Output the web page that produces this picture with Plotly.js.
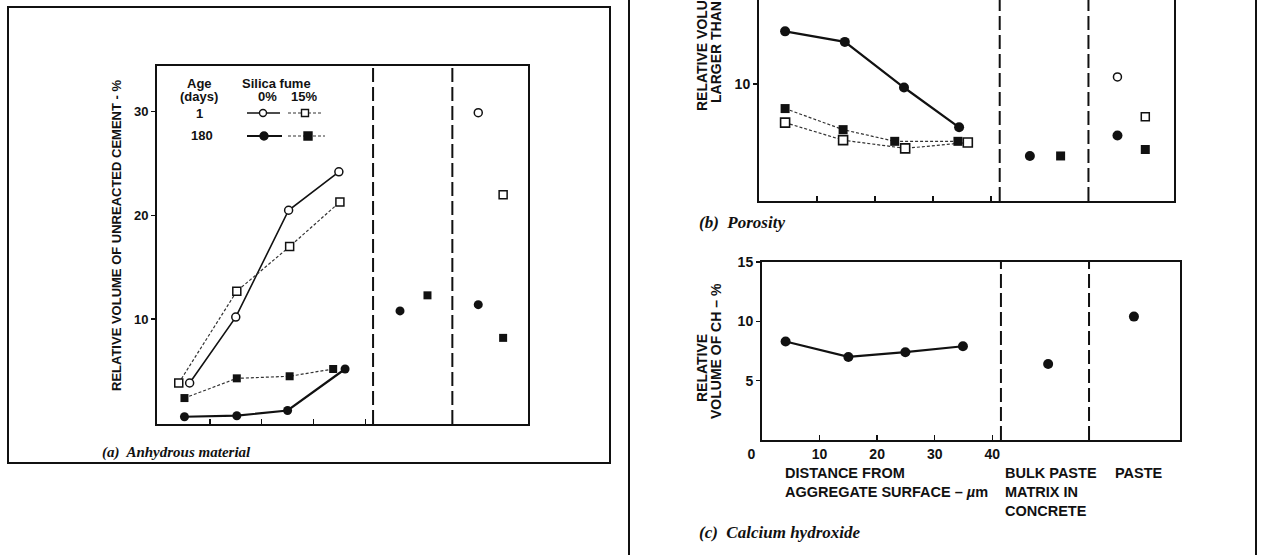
<!DOCTYPE html>
<html>
<head>
<meta charset="utf-8">
<script src="https://cdn.plot.ly/plotly-3.0.1.min.js"></script>
<style>
  html, body { margin: 0; padding: 0; background: #fff; }
  #fig { width: 1261px; height: 555px; }
</style>
</head>
<body>
<div id="fig"></div>
<script>
// ---- Data: distance from aggregate surface (µm) and relative volumes (%) ----

// (a) Anhydrous material – unreacted cement
const aAge1Sf0X   = [6.1, 15.0, 25.2, 34.9];
const aAge1Sf0Y   = [3.85, 10.2, 20.5, 24.2];
const aAge1Sf15X  = [4.0, 15.2, 25.4, 35.1];
const aAge1Sf15Y  = [3.85, 12.7, 17.0, 21.3];
const aAge180Sf15X = [5.1, 15.2, 25.4, 33.8];
const aAge180Sf15Y = [2.4, 4.3, 4.5, 5.2];
const aAge180Sf0X  = [5.1, 15.2, 25.0, 36.1];
const aAge180Sf0Y  = [0.6, 0.7, 1.2, 5.2];
// bulk paste matrix in concrete (180 days): 0%, 15%
const aBulk180Y = [10.8, 12.3];
// plain paste: 1 day (0%, 15%), 180 days (0%, 15%)
const aPaste1Y   = [29.9, 22.0];
const aPaste180Y = [11.4, 8.2];

// (b) Porosity
const bAge180Sf0X  = [4.5, 14.8, 25.0, 34.5];
const bAge180Sf0Y  = [14.5, 13.6, 9.7, 6.3];
const bAge180Sf15X = [4.5, 14.5, 23.4, 34.3];
const bAge180Sf15Y = [7.9, 6.1, 5.1, 5.1];
const bAge1Sf15X   = [4.5, 14.5, 25.2, 36.0];
const bAge1Sf15Y   = [6.7, 5.2, 4.5, 5.0];
const bBulk180Y  = [3.85, 3.85];
const bPaste1Y   = [10.6, 7.2];
const bPaste180Y = [5.6, 4.4];

// (c) Calcium hydroxide
const cDistX = [4.1, 15.0, 24.9, 34.9];
const cDistY = [8.3, 7.0, 7.4, 7.9];
const cBulkY  = [6.4];
const cPasteY = [10.4];

// Zone layout along the x scale: boundaries and where the zone points sit
const zoneEdges   = [41.5, 56.8];
const bulkX       = [46.7, 52.0];   // 0% , 15%
const pasteX      = [61.8, 66.6];   // 0% , 15%
const cZoneX      = [49.7, 64.6];   // bulk, paste

// Tick labels
const aYTicks = [10, 20, 30];
const bYTicks = [10, 20];
const cYTicks = [5, 10, 15];
const cXTicks = [0, 10, 20, 30, 40];
const cXTickText = ['0\u2003\u2002', '10', '20', '30', '40'];

// ---- Styling helpers ----
const W = 1261, H = 555;
const px = v => v / W;
const py = v => 1 - v / H;
const SANS = 'Liberation Sans, Arial, sans-serif';
const SERIF = 'Liberation Serif, Times New Roman, serif';
const INK = '#111';

const openCircle  = {symbol: 'circle', size: 8, color: '#fff', line: {color: INK, width: 1.5}};
const openSquare  = {symbol: 'square', size: 8, color: '#fff', line: {color: INK, width: 1.5}};
const fullCircle  = {symbol: 'circle', size: 9, color: INK, line: {color: INK, width: 0}};
const fullSquare  = {symbol: 'square', size: 8, color: INK, line: {color: INK, width: 0}};
const bigCircle   = {symbol: 'circle', size: 10, color: INK, line: {color: INK, width: 0}};
const bigSquare   = {symbol: 'square', size: 9, color: INK, line: {color: INK, width: 0}};
const bigOpenSq   = {symbol: 'square', size: 9, color: '#fff', line: {color: INK, width: 1.6}};
const solidLine   = {color: INK, width: 1.6};
const solidThick  = {color: INK, width: 2.2};
const dotLine     = {color: '#333', width: 1.2, dash: '3px,2px'};

function series(x, y, marker, line, xa, ya) {
  return {x, y, xaxis: xa, yaxis: ya, type: 'scatter',
          mode: line ? 'lines+markers' : 'markers',
          marker, line: line || undefined, hoverinfo: 'skip', cliponaxis: false};
}

const traces = [
  // (a)
  series(aAge1Sf0X, aAge1Sf0Y, openCircle, solidLine, 'x', 'y'),
  series(aAge1Sf15X, aAge1Sf15Y, openSquare, dotLine, 'x', 'y'),
  series(aAge180Sf15X, aAge180Sf15Y, fullSquare, dotLine, 'x', 'y'),
  series(aAge180Sf0X, aAge180Sf0Y, fullCircle, solidThick, 'x', 'y'),
  series([bulkX[0]], [aBulk180Y[0]], fullCircle, null, 'x', 'y'),
  series([bulkX[1]], [aBulk180Y[1]], fullSquare, null, 'x', 'y'),
  series([pasteX[0]], [aPaste1Y[0]], openCircle, null, 'x', 'y'),
  series([pasteX[1]], [aPaste1Y[1]], openSquare, null, 'x', 'y'),
  series([pasteX[0]], [aPaste180Y[0]], fullCircle, null, 'x', 'y'),
  series([pasteX[1]], [aPaste180Y[1]], fullSquare, null, 'x', 'y'),
  // (b)
  series(bAge1Sf15X, bAge1Sf15Y, bigOpenSq, dotLine, 'x2', 'y2'),
  series(bAge180Sf15X, bAge180Sf15Y, bigSquare, dotLine, 'x2', 'y2'),
  series(bAge180Sf0X, bAge180Sf0Y, bigCircle, solidThick, 'x2', 'y2'),
  series([bulkX[0]], [bBulk180Y[0]], bigCircle, null, 'x2', 'y2'),
  series([bulkX[1]], [bBulk180Y[1]], bigSquare, null, 'x2', 'y2'),
  series([pasteX[0]], [bPaste1Y[0]], openCircle, null, 'x2', 'y2'),
  series([pasteX[1]], [bPaste1Y[1]], openSquare, null, 'x2', 'y2'),
  series([pasteX[0]], [bPaste180Y[0]], bigCircle, null, 'x2', 'y2'),
  series([pasteX[1]], [bPaste180Y[1]], bigSquare, null, 'x2', 'y2'),
  // (c)
  series(cDistX, cDistY, bigCircle, solidThick, 'x3', 'y3'),
  series([cZoneX[0]], cBulkY, bigCircle, null, 'x3', 'y3'),
  series([cZoneX[1]], cPasteY, bigCircle, null, 'x3', 'y3'),
];

const tickFontA = {family: SANS, size: 13, color: INK, weight: 'bold'};
const tickFontR = {family: SANS, size: 14, color: INK, weight: 'bold'};

function xAxis(domain, range, anchor, extra) {
  return Object.assign({
    domain, range, anchor, showgrid: false, zeroline: false,
    showline: true, linecolor: INK, linewidth: 2, mirror: true,
    ticks: 'inside', ticklen: 5, tickwidth: 1.5, tickcolor: INK,
    tickvals: [10, 20, 30, 40], showticklabels: false, fixedrange: true
  }, extra || {});
}
function yAxis(domain, range, anchor, tickvals, font, extra) {
  return Object.assign({
    domain, range, anchor, showgrid: false, zeroline: false,
    showline: true, linecolor: INK, linewidth: 2, mirror: true,
    ticks: 'outside', ticklen: 4, tickwidth: 1.5, tickcolor: INK,
    tickvals, tickfont: font, fixedrange: true
  }, extra || {});
}

// zone boundaries drawn as long-dash verticals in each panel
const shapes = [];
[['x', 'y domain'], ['x2', 'y2 domain'], ['x3', 'y3 domain']].forEach(([xr, yr]) => {
  zoneEdges.forEach(e => shapes.push({
    type: 'line', xref: xr, yref: yr, x0: e, x1: e, y0: 0, y1: 1,
    line: {color: INK, width: 2, dash: '14px,5px'}
  }));
});
// panel borders
shapes.push({type: 'rect', xref: 'paper', yref: 'paper',
  x0: px(8), x1: px(610), y0: py(463), y1: py(7), line: {color: INK, width: 2}});
shapes.push({type: 'line', xref: 'paper', yref: 'paper',
  x0: px(629), x1: px(629), y0: 0, y1: 1, line: {color: INK, width: 2}});
shapes.push({type: 'line', xref: 'paper', yref: 'paper',
  x0: px(1256), x1: px(1256), y0: 0, y1: 1, line: {color: INK, width: 2}});

// key for panel (a): line samples with symbols
function keyLine(x0, x1, y, line) {
  shapes.push({type: 'line', xref: 'paper', yref: 'paper',
    x0: px(x0), x1: px(x1), y0: py(y), y1: py(y), line});
}
function keyMark(kind, cx, cy, r, filled) {
  shapes.push({type: kind, xref: 'paper', yref: 'paper',
    x0: px(cx - r), x1: px(cx + r), y0: py(cy + r), y1: py(cy - r),
    fillcolor: filled ? INK : '#fff', line: {color: INK, width: 1.4}});
}
keyLine(247, 280, 113, {color: INK, width: 1.6});
keyMark('circle', 263, 113, 3.5, false);
keyLine(288, 323, 113, {color: '#333', width: 1.2, dash: '3px,2px'});
keyMark('rect', 305, 113, 3.5, false);
keyLine(247, 282, 136, {color: INK, width: 2.2});
keyMark('circle', 264, 136, 4, true);
keyLine(288, 325, 136, {color: '#333', width: 1.2, dash: '3px,2px'});
keyMark('rect', 308, 136, 4, true);

function note(text, x, y, opts) {
  return Object.assign({
    text, xref: 'paper', yref: 'paper', x: px(x), y: py(y),
    showarrow: false, xanchor: 'center', yanchor: 'middle',
    font: {family: SANS, size: 13, color: INK, weight: 'bold'}
  }, opts || {});
}
const capFontA = {family: SERIF, size: 15, color: INK, style: 'italic', weight: 'bold'};
const capFontR = {family: SERIF, size: 17, color: INK, style: 'italic', weight: 'bold'};
const titleFontA = {family: SANS, size: 13, color: INK, weight: 'bold'};
const titleFontR = {family: SANS, size: 14, color: INK, weight: 'bold'};
const labelFontR = {family: SANS, size: 14.5, color: INK, weight: 'bold'};

const annotations = [
  // panel (a)
  note('RELATIVE VOLUME OF UNREACTED CEMENT - %', 116, 236, {textangle: -90, font: titleFontA}),
  note('Age', 199, 83),
  note('(days)', 199, 96),
  note('1', 199, 113),
  note('180', 202, 136),
  note('Silica fume', 276, 83),
  note('0%', 267, 96),
  note('15%', 304, 96),
  note('(a)  Anhydrous material', 100, 452, {xanchor: 'left', font: capFontA}),
  // panel (b)
  note('RELATIVE VOLUME OF PORES', 702, 113, {textangle: -90, yanchor: 'bottom', font: titleFontR}),
  note('LARGER THAN 0.5 µm – %', 716, 105, {textangle: -90, yanchor: 'bottom', font: titleFontR}),
  note('(b)  Porosity', 697, 222, {xanchor: 'left', font: capFontR}),
  // panel (c)
  note('RELATIVE', 702, 368, {textangle: -90, font: titleFontR}),
  note('VOLUME OF CH – %', 716, 351, {textangle: -90, font: titleFontR}),
  note('DISTANCE FROM<br>AGGREGATE SURFACE – <i>µ</i>m', 783, 463,
       {xanchor: 'left', yanchor: 'top', align: 'left', font: labelFontR}),
  note('BULK PASTE<br>MATRIX IN<br>CONCRETE', 1003, 463,
       {xanchor: 'left', yanchor: 'top', align: 'left', font: labelFontR}),
  note('PASTE', 1113, 463, {xanchor: 'left', yanchor: 'top', align: 'left', font: labelFontR}),
  note('(c)  Calcium hydroxide', 697, 532, {xanchor: 'left', font: capFontR}),
];

const layout = {
  width: W, height: H, autosize: false,
  margin: {l: 0, r: 0, t: 0, b: 0, pad: 0},
  paper_bgcolor: '#fff', plot_bgcolor: 'rgba(0,0,0,0)',
  showlegend: false,
  xaxis:  xAxis([px(157), px(528)], [-0.2, 71.4], 'y'),
  yaxis:  yAxis([py(424), py(66)], [-0.1, 34.4], 'x', aYTicks, tickFontA),
  xaxis2: xAxis([px(759), px(1174)], [0, 71.55], 'y2', {mirror: false}),
  yaxis2: yAxis([py(201), 1], [0, 17.18], 'x2', bYTicks, tickFontR),
  xaxis3: xAxis([px(762), px(1180)], [0, 72.6], 'y3',
                {tickvals: cXTicks, ticktext: cXTickText, showticklabels: true, tickfont: tickFontR}),
  yaxis3: yAxis([py(440), py(262)], [0, 15], 'x3', cYTicks, tickFontR),
  shapes, annotations
};

Plotly.newPlot('fig', traces, layout, {staticPlot: true, displayModeBar: false});
</script>
</body>
</html>
